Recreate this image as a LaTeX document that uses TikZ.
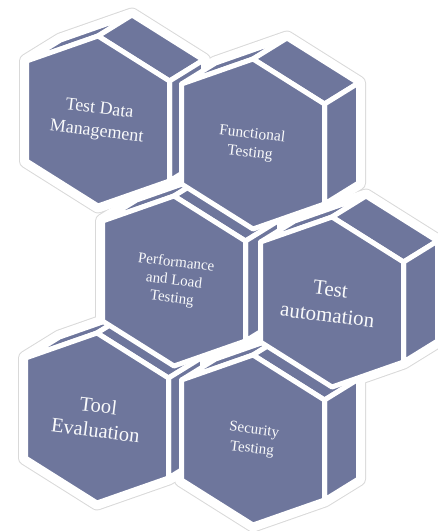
\documentclass[tikz,border=0pt]{standalone}
\usepackage{fontspec}
\setmainfont{Liberation Serif}
\usepackage{tikz}
\usetikzlibrary{calc}
\definecolor{hexblue}{RGB}{110,118,156}
\newcommand{\gapw}{5pt}
\newcommand{\halow}{13pt}
\newcommand{\ringw}{15pt}

\begin{document}
\begin{tikzpicture}[x=1pt, y=-1pt, line join=round]
	%\draw[help lines, step=20] (0,0) grid (438,531);
	\tikzset{face/.style = {fill=hexblue, draw=white, line width=\gapw},
		halo/.style = {draw=white, line width=\halow},
		ring/.style = {draw=gray!30, line width=\ringw},
		lbl/.style = {text=white!96!hexblue, align=center, rotate=-7, inner sep=0pt}}
	\useasboundingbox (0,0) rectangle (438,531);
	% corners of each prism: front hexagon, then the back edge shifted by (34,-21)
	\foreach \n/\x/\y in {tdm/98/121, ft/253/144, plt/174/281, ta/332/302, te/97/418, st/253/440}{
		\coordinate (\n-c) at (\x,\y);
		\coordinate (\n-t) at (\x,\y-85);
		\coordinate (\n-tr) at (\x+71.5,\y-40);
		\coordinate (\n-br) at (\x+71.5,\y+60);
		\coordinate (\n-b) at (\x,\y+85);
		\coordinate (\n-bl) at (\x-71.5,\y+40);
		\coordinate (\n-tl) at (\x-71.5,\y-60);
		\coordinate (\n-tb) at (\x+34,\y-106);
		\coordinate (\n-trb) at (\x+105.5,\y-61);
		\coordinate (\n-brb) at (\x+105.5,\y+39);
		\coordinate (\n-tlb) at (\x-37.5,\y-81);
	}
	% outline and white border round the whole cluster
	\foreach \n in {tdm, ft, plt, ta, te, st}
		\path[ring] (\n-bl) -- (\n-tl) -- (\n-tlb) -- (\n-tb) -- (\n-trb) -- (\n-brb) -- (\n-br) -- (\n-b) -- cycle;
	\foreach \n in {tdm, ft, plt, ta, te, st}
		\path[halo] (\n-bl) -- (\n-tl) -- (\n-tlb) -- (\n-tb) -- (\n-trb) -- (\n-brb) -- (\n-br) -- (\n-b) -- cycle;
	% side faces first, front faces on top
	\foreach \n in {tdm, ft, plt, ta, te, st}{
		\path[face] (\n-tl) -- (\n-t) -- (\n-tb) -- (\n-tlb) -- cycle;
		\path[face] (\n-t) -- (\n-tr) -- (\n-trb) -- (\n-tb) -- cycle;
		\path[face] (\n-tr) -- (\n-br) -- (\n-brb) -- (\n-trb) -- cycle;
	}
	\foreach \n in {tdm, ft, plt, ta, te, st}
		\path[face] (\n-t) -- (\n-tr) -- (\n-br) -- (\n-b) -- (\n-bl) -- (\n-tl) -- cycle;
	\node[lbl, font=\fontsize{18}{23}\selectfont] (tdm-txt) at (tdm-c) {Test Data\\Management};
	\node[lbl, font=\fontsize{15.5}{19}\selectfont] (ft-txt) at ([xshift=-2pt]ft-c) {Functional\\Testing};
	\node[lbl, font=\fontsize{15}{18}\selectfont] (plt-txt) at (plt-c) {Performance\\and Load\\Testing};
	\node[lbl, font=\fontsize{21}{26}\selectfont] (ta-txt) at ([xshift=-3pt]ta-c) {Test\\automation};
	\node[lbl, font=\fontsize{20.5}{25}\selectfont] (te-txt) at (te-c) {Tool\\Evaluation};
	\node[lbl, font=\fontsize{15}{19}\selectfont] (st-txt) at (st-c) {Security\\Testing};
\end{tikzpicture}
\end{document}
